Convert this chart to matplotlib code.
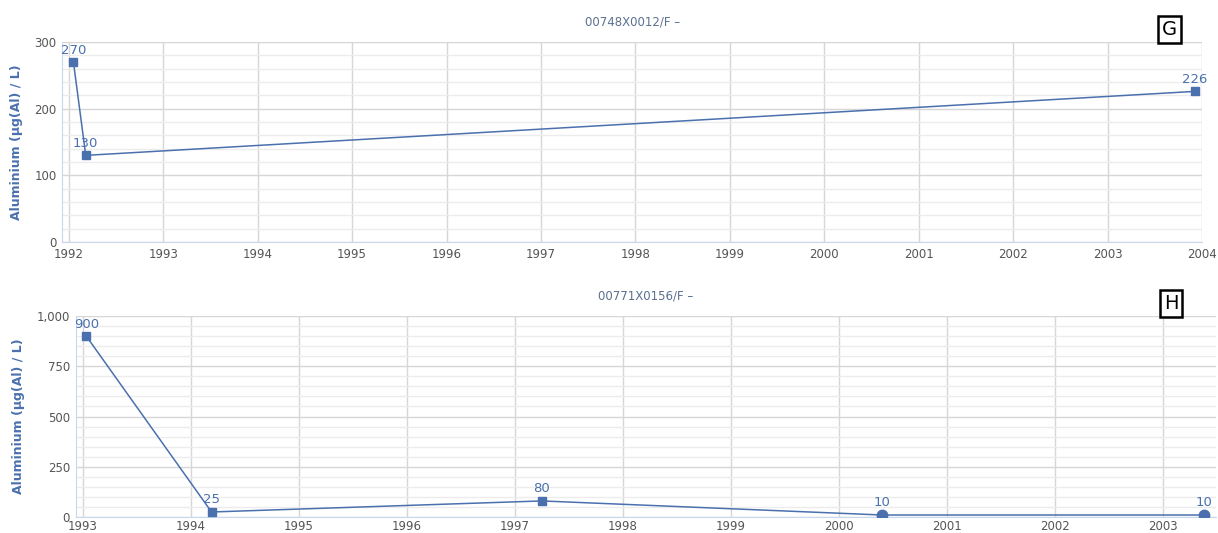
import matplotlib.pyplot as plt
from matplotlib.ticker import MultipleLocator, FuncFormatter

# station 00748X0012/F
g_dates = [1992.05, 1992.18, 2003.92]
g_values = [270, 130, 226]
g_markers = ["s", "s", "s"]

# station 00771X0156/F
h_dates = [1993.03, 1994.19, 1997.25, 2000.40, 2003.38]
h_values = [900, 25, 80, 10, 10]
h_markers = ["s", "s", "s", "o", "o"]

BLUE = "#4a70ae"
TICK = "#555555"


def draw(ax, dates, values, markers, title, tag, tag_xy, xlim, ylim, major, minor, years, xpad):
    ax.plot(dates, values, color=BLUE, lw=1.1, zorder=3)
    for x, y, m in zip(dates, values, markers):
        ax.plot(x, y, marker=m, color=BLUE, ms=6 if m == "s" else 7.5, zorder=4, clip_on=True)
        ax.annotate(str(y), (x, y), xytext=(0, 4), textcoords="offset points",
                    ha="center", va="bottom", color=BLUE, fontsize=9.5,
                    annotation_clip=False, zorder=5)
    ax.set_xlim(*xlim)
    ax.set_ylim(*ylim)
    ax.set_xticks(years)
    ax.yaxis.set_major_locator(MultipleLocator(major))
    ax.yaxis.set_minor_locator(MultipleLocator(minor))
    ax.yaxis.set_major_formatter(FuncFormatter(lambda v, p: f"{int(v):,}"))
    ax.grid(True, which="major", color="#d6d6d6", lw=1)
    ax.grid(True, which="minor", axis="y", color="#ececec", lw=1)
    ax.set_axisbelow(True)
    for s in ("top", "right"):
        ax.spines[s].set_visible(False)
    for s in ("left", "bottom"):
        ax.spines[s].set_color("#c9d8ee")
    ax.tick_params(axis="both", which="both", length=0, labelsize=8.5, colors=TICK, pad=4)
    ax.tick_params(axis="x", pad=xpad)
    ax.set_ylabel("Aluminium (µg(Al) / L)", color=BLUE, fontsize=9, fontweight="bold", labelpad=8)
    ax.set_title(title, color="#5b6f8f", fontsize=8.5, pad=12)
    ax.text(tag_xy[0], tag_xy[1], tag, transform=ax.transAxes, fontsize=14, ha="center", va="center",
            bbox=dict(boxstyle="square,pad=0.2", fc="white", ec="black", lw=1.8))


fig = plt.figure(figsize=(12.18, 5.33), dpi=100)
ax1 = fig.add_axes([0.051, 0.546, 0.936, 0.375])
ax2 = fig.add_axes([0.062, 0.030, 0.936, 0.377])

draw(ax1, g_dates, g_values, g_markers, "00748X0012/F –", "G", (0.971, 1.065),
     (1991.93, 2004.0), (0, 300), 100, 20, list(range(1992, 2005)), 4.5)
draw(ax2, h_dates, h_values, h_markers, "00771X0156/F –", "H", (0.961, 1.064),
     (1992.93, 2003.49), (0, 1000), 250, 50, list(range(1993, 2004)), 2)

plt.savefig("out.png", dpi=100)
